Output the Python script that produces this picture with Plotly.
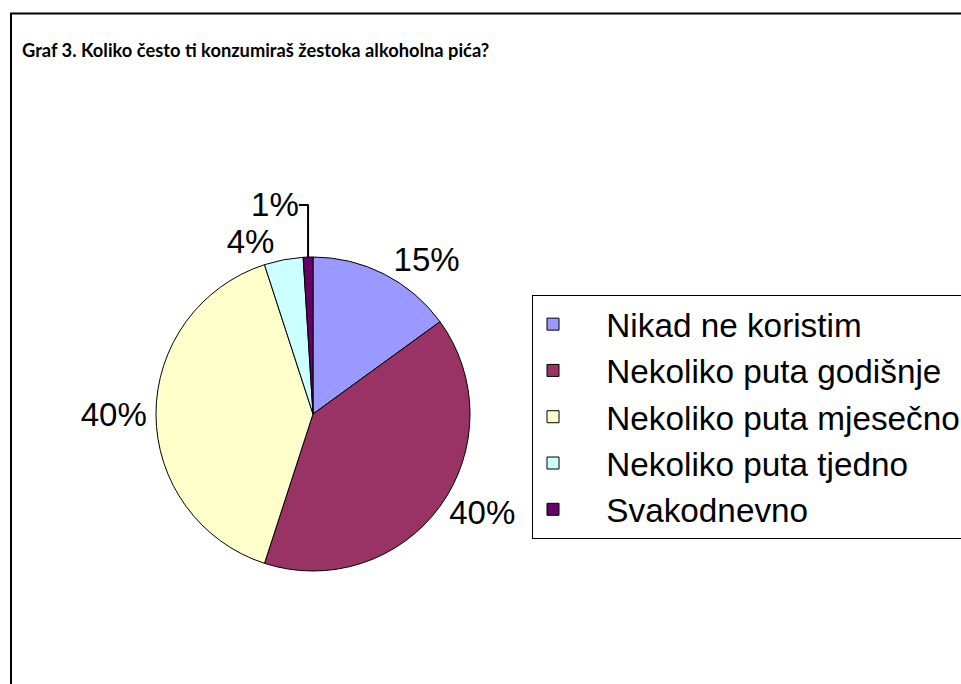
import plotly.graph_objects as go

labels = ["Nikad ne koristim", "Nekoliko puta godišnje", "Nekoliko puta mjesečno",
          "Nekoliko puta tjedno", "Svakodnevno"]
values = [15, 40, 40, 4, 1]
colors = ["#9999FF", "#993366", "#FFFFCC", "#CCFFFF", "#660066"]
title_text = "Graf 3. Koliko često ti konzumiraš žestoka alkoholna pića?"

W, H = 1000, 700
cx, cy, r = 313, 414, 157

def px(x):
    return x / W

def py(y):
    return 1 - y / H

legend_names = ["\u2002\u2002" + s for s in labels]

fig = go.Figure(go.Pie(
    labels=legend_names,
    values=values,
    sort=False,
    direction="clockwise",
    rotation=0,
    marker=dict(colors=colors, line=dict(color="black", width=1)),
    textinfo="percent",
    textposition="outside",
    textfont=dict(family="Liberation Sans, Arial", size=33, color="black"),
    domain=dict(x=[px(cx - r), px(cx + r)], y=[py(cy + r), py(cy - r)]),
    showlegend=True,
))

fig.update_layout(
    width=W, height=H,
    margin=dict(l=0, r=0, t=0, b=0, autoexpand=False),
    paper_bgcolor="white",
    plot_bgcolor="white",
    title=dict(
        text="<b>" + title_text + "</b>",
        x=px(22), xanchor="left", xref="paper",
        y=py(51), yanchor="middle", yref="paper",
        font=dict(family="Lato, Liberation Sans", size=18.3, color="black"),
    ),
    legend=dict(
        x=px(532), xanchor="left",
        y=py(295), yanchor="top",
        bgcolor="white", bordercolor="black", borderwidth=1,
        font=dict(family="Liberation Sans, Arial", size=33.3, color="black"),
    ),
    shapes=[dict(type="rect", xref="paper", yref="paper",
                 x0=px(11), x1=1.05, y0=-0.05, y1=py(13.5),
                 line=dict(color="black", width=2), layer="below")],
)

fig.write_html(
    "out.html",
    config={"displayModeBar": False},
    post_script="document.body.style.margin='0';document.body.style.overflow='hidden';",
)
